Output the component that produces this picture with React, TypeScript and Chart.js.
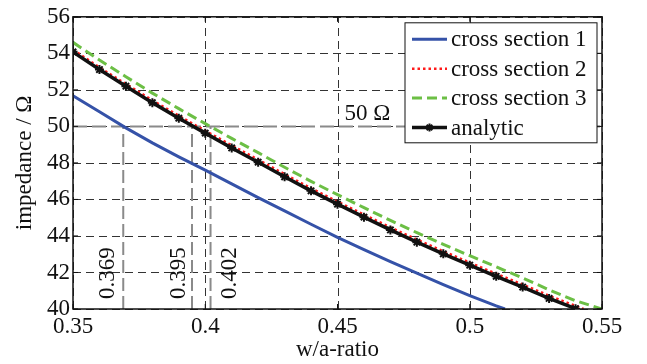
import React, { useEffect, useRef } from "react";
import { Chart, registerables } from "chart.js";

Chart.register(...registerables);

// ---- data ----
const analyticX = [0.35, 0.36, 0.37, 0.38, 0.39, 0.4, 0.41, 0.42, 0.43, 0.44, 0.45, 0.46, 0.47, 0.48, 0.49, 0.5, 0.51, 0.52, 0.53, 0.54];
const analyticY = [54.08, 53.11, 52.2, 51.3, 50.45, 49.63, 48.82, 48.04, 47.24, 46.47, 45.74, 45.03, 44.33, 43.66, 43.02, 42.4, 41.79, 41.2, 40.58, 40.02];

const cs1X = [0.35, 0.36, 0.37, 0.38, 0.39, 0.4, 0.41, 0.42, 0.43, 0.44, 0.45, 0.46, 0.47, 0.48, 0.49, 0.5, 0.51, 0.5133];
const cs1Y = [51.68, 50.8, 49.92, 49.1, 48.33, 47.6, 46.85, 46.1, 45.37, 44.64, 43.92, 43.25, 42.6, 41.96, 41.34, 40.73, 40.17, 40.0];

const cs2X = [0.35, 0.36, 0.37, 0.38, 0.39, 0.4, 0.41, 0.42, 0.43, 0.44, 0.45, 0.46, 0.47, 0.48, 0.49, 0.5, 0.51, 0.52, 0.53, 0.54, 0.543];
const cs2Y = [54.2, 53.23, 52.32, 51.43, 50.58, 49.76, 48.96, 48.18, 47.38, 46.61, 45.88, 45.17, 44.47, 43.8, 43.16, 42.54, 41.93, 41.34, 40.73, 40.17, 40.0];

const cs3X = [0.35, 0.36, 0.37, 0.38, 0.39, 0.4, 0.41, 0.42, 0.43, 0.44, 0.45, 0.46, 0.47, 0.48, 0.49, 0.5, 0.51, 0.52, 0.53, 0.54, 0.55];
const cs3Y = [54.6, 53.63, 52.72, 51.82, 50.97, 50.15, 49.34, 48.56, 47.76, 46.99, 46.26, 45.55, 44.85, 44.18, 43.54, 42.92, 42.31, 41.7, 41.05, 40.45, 40.0];

const seriesNames = ["cross section 1", "cross section 2", "cross section 3", "analytic"];

const xTickValues = [0.35, 0.4, 0.45, 0.5, 0.55];
const xTickLabels = ["0.35", "0.4", "0.45", "0.5", "0.55"];
const yTickValues = [40, 42, 44, 46, 48, 50, 52, 54, 56];

const refLevel = 50;
const refLabel = "50 Ω";
const crossX = [0.369, 0.395, 0.402];
const crossLabels = ["0.369", "0.395", "0.402"];

const xTitle = "w/a-ratio";
const yTitle = "impedance / Ω";

// ---- styles ----
const FONT = "'Liberation Serif', 'Times New Roman', serif";
const FS = 23;
const crossLabelOffsets = [-16, -14, 18];

const toPts = (xs: number[], ys: number[]) => xs.map((x, i) => ({ x, y: ys[i] }));

export default function App() {
  const ref = useRef<HTMLCanvasElement | null>(null);

  useEffect(() => {
    document.body.style.margin = "0";
    const canvas = ref.current;
    if (!canvas) return;

    const xMin = xTickValues[0];
    const xMax = xTickValues[xTickValues.length - 1];
    const yMin = yTickValues[0];
    const yMax = yTickValues[yTickValues.length - 1];

    const refDatasets: any[] = [
      {
        label: "_ref",
        data: [{ x: xMin, y: refLevel }, { x: xMax, y: refLevel }],
        borderColor: "#8a8a8a",
        borderWidth: 2,
        borderDash: [14, 5],
        pointRadius: 0,
        order: 10,
      },
      ...crossX.map((cx) => ({
        label: "_ref",
        data: [{ x: cx, y: yMin }, { x: cx, y: refLevel }],
        borderColor: "#8a8a8a",
        borderWidth: 2,
        borderDash: [13, 5],
        pointRadius: 0,
        order: 10,
      })),
    ];

    const seriesDatasets: any[] = [
      {
        label: seriesNames[0],
        data: toPts(cs1X, cs1Y),
        borderColor: "#3552a8",
        borderWidth: 3,
        pointRadius: 0,
        order: 4,
      },
      {
        label: seriesNames[1],
        data: toPts(cs2X, cs2Y),
        borderColor: "#ff1a1a",
        borderWidth: 2.5,
        borderDash: [2.5, 3],
        pointRadius: 0,
        order: 3,
      },
      {
        label: seriesNames[2],
        data: toPts(cs3X, cs3Y),
        borderColor: "#6cbf45",
        borderWidth: 3,
        borderDash: [10, 5],
        pointRadius: 0,
        order: 2,
      },
      {
        label: seriesNames[3],
        data: toPts(analyticX, analyticY),
        borderColor: "#111111",
        backgroundColor: "#111111",
        borderWidth: 3.5,
        pointStyle: "star",
        pointRadius: 4.5,
        pointBorderWidth: 2,
        pointBorderColor: "#111111",
        pointBackgroundColor: "#111111",
        order: 1,
      },
    ];

    const gridPlugin = {
      id: "dashGrid",
      beforeDatasetsDraw(chart: any) {
        const { ctx, chartArea: a, scales } = chart;
        const xs = scales.x;
        const ys = scales.y;
        ctx.save();
        ctx.strokeStyle = "#333";
        ctx.lineWidth = 1;
        ctx.setLineDash([8, 5]);
        xTickValues.forEach((v) => {
          const px = Math.round(xs.getPixelForValue(v)) + 0.5;
          ctx.beginPath();
          ctx.moveTo(px, a.bottom);
          ctx.lineTo(px, a.top);
          ctx.stroke();
        });
        yTickValues.forEach((v) => {
          const py = Math.round(ys.getPixelForValue(v)) + 0.5;
          ctx.beginPath();
          ctx.moveTo(a.left, py);
          ctx.lineTo(a.right, py);
          ctx.stroke();
        });
        ctx.restore();
      },
    };

    const overlay = {
      id: "overlay",
      afterDatasetsDraw(chart: any) {
        const { ctx, chartArea: a, scales } = chart;
        const xs = scales.x;
        const ys = scales.y;
        ctx.save();
        // frame
        ctx.strokeStyle = "#111";
        ctx.lineWidth = 1.5;
        ctx.setLineDash([]);
        ctx.strokeRect(a.left, a.top, a.right - a.left, a.bottom - a.top);
        // inner ticks
        ctx.lineWidth = 1;
        const tl = 5;
        xTickValues.forEach((v) => {
          const px = xs.getPixelForValue(v);
          ctx.beginPath();
          ctx.moveTo(px, a.bottom);
          ctx.lineTo(px, a.bottom - tl);
          ctx.moveTo(px, a.top);
          ctx.lineTo(px, a.top + tl);
          ctx.stroke();
        });
        yTickValues.forEach((v) => {
          const py = ys.getPixelForValue(v);
          ctx.beginPath();
          ctx.moveTo(a.left, py);
          ctx.lineTo(a.left + tl, py);
          ctx.moveTo(a.right, py);
          ctx.lineTo(a.right - tl, py);
          ctx.stroke();
        });

        // annotation texts
        ctx.fillStyle = "#111";
        ctx.font = `${FS}px ${FONT}`;
        ctx.textAlign = "left";
        ctx.textBaseline = "alphabetic";
        ctx.fillText(refLabel, xs.getPixelForValue(0.45) + 7, ys.getPixelForValue(refLevel) - 6);
        crossX.forEach((cx, i) => {
          const px = xs.getPixelForValue(cx) + crossLabelOffsets[i];
          const py = ys.getPixelForValue(yMin) - 10;
          ctx.save();
          ctx.translate(px, py);
          ctx.rotate(-Math.PI / 2);
          ctx.textAlign = "left";
          ctx.textBaseline = "middle";
          ctx.fillText(crossLabels[i], 0, 1);
          ctx.restore();
        });

        // legend
        const lw = 192;
        const lh = 120;
        const lx = a.right - 5 - lw;
        const ly = a.top + 6;
        ctx.fillStyle = "#fff";
        ctx.fillRect(lx, ly, lw, lh);
        ctx.strokeStyle = "#111";
        ctx.lineWidth = 1;
        ctx.setLineDash([]);
        ctx.strokeRect(lx, ly, lw, lh);
        seriesDatasets.forEach((ds, i) => {
          const cy = ly + 16.5 + i * 29.4;
          ctx.save();
          ctx.strokeStyle = ds.borderColor;
          ctx.lineWidth = ds.borderWidth;
          ctx.setLineDash(ds.borderDash || []);
          ctx.beginPath();
          ctx.moveTo(lx + 7, cy);
          ctx.lineTo(lx + 42, cy);
          ctx.stroke();
          ctx.setLineDash([]);
          if (ds.pointStyle === "star") {
            ctx.lineWidth = 2;
            const r = 4;
            const mx = lx + 24.5;
            ctx.beginPath();
            for (let k = 0; k < 4; k++) {
              const ang = (k * Math.PI) / 4;
              ctx.moveTo(mx - r * Math.cos(ang), cy - r * Math.sin(ang));
              ctx.lineTo(mx + r * Math.cos(ang), cy + r * Math.sin(ang));
            }
            ctx.stroke();
          }
          ctx.restore();
          ctx.fillStyle = "#111";
          ctx.font = `${FS}px ${FONT}`;
          ctx.textAlign = "left";
          ctx.textBaseline = "middle";
          ctx.fillText(ds.label, lx + 46, cy + 1);
        });
        ctx.restore();
      },
    };

    const chart = new Chart(canvas, {
      type: "line",
      data: { datasets: [...refDatasets, ...seriesDatasets] },
      options: {
        animation: false,
        responsive: false,
        devicePixelRatio: 1,
        layout: { padding: { left: 0, right: 45, top: 10, bottom: 0 } },
        plugins: {
          legend: { display: false },
          tooltip: { enabled: false },
        },
        elements: { line: { tension: 0 } },
        scales: {
          x: {
            type: "linear",
            min: xMin,
            max: xMax,
            afterBuildTicks: (s: any) => {
              s.ticks = xTickValues.map((v) => ({ value: v }));
            },
            afterFit: (s: any) => {
              s.height = 55;
            },
            ticks: {
              color: "#111",
              font: { family: FONT, size: FS },
              padding: 4,
              maxRotation: 0,
              callback: (v: any) => {
                const idx = xTickValues.findIndex((t) => Math.abs(t - v) < 1e-6);
                return idx >= 0 ? xTickLabels[idx] : "";
              },
            },
            grid: { display: false, drawTicks: false },
            border: { display: false },
            title: {
              display: true,
              text: xTitle,
              color: "#111",
              font: { family: FONT, size: FS },
              padding: 0,
            },
          },
          y: {
            type: "linear",
            min: yMin,
            max: yMax,
            afterBuildTicks: (s: any) => {
              s.ticks = yTickValues.map((v) => ({ value: v }));
            },
            afterFit: (s: any) => {
              s.width = 73;
            },
            ticks: {
              color: "#111",
              font: { family: FONT, size: FS },
              padding: 3,
              callback: (v: any) => String(v),
            },
            grid: { display: false, drawTicks: false },
            border: { display: false },
            title: {
              display: true,
              text: yTitle,
              color: "#111",
              font: { family: FONT, size: FS },
              padding: { top: 11, bottom: 0 },
            },
          },
        },
      },
      plugins: [gridPlugin, overlay],
    } as any);

    return () => chart.destroy();
  }, []);

  return (
    <div style={{ width: 647, height: 364 }}>
      <canvas ref={ref} width={647} height={364} style={{ display: "block" }} />
    </div>
  );
}
